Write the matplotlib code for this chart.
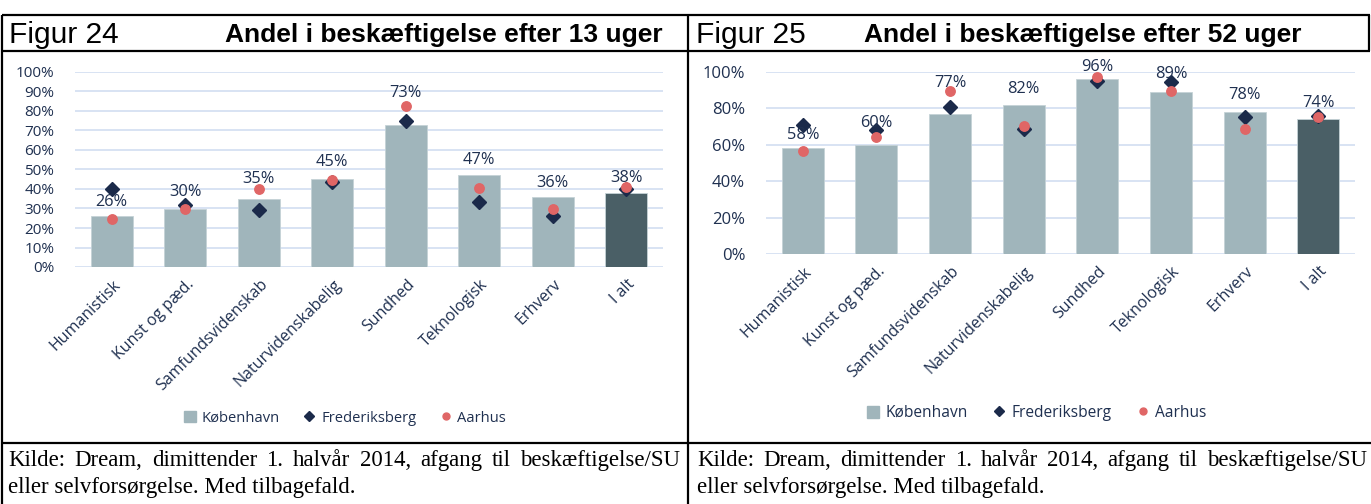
import matplotlib

matplotlib.use("Agg")
import matplotlib.pyplot as plt
import matplotlib.transforms as mtransforms
from matplotlib.lines import Line2D
from matplotlib.patches import Patch
from matplotlib.ticker import PercentFormatter

W, H = 1371, 504

categories = ["Humanistisk", "Kunst og pæd.", "Samfundsvidenskab", "Naturvidenskabelig",
              "Sundhed", "Teknologisk", "Erhverv", "I alt"]

kbh_13 = [0.26, 0.30, 0.35, 0.45, 0.73, 0.47, 0.36, 0.38]
frb_13 = [0.40, 0.32, 0.29, 0.435, 0.75, 0.335, 0.26, 0.40]
aar_13 = [0.245, 0.30, 0.40, 0.445, 0.825, 0.405, 0.30, 0.41]

kbh_52 = [0.58, 0.60, 0.77, 0.82, 0.96, 0.89, 0.78, 0.74]
frb_52 = [0.71, 0.68, 0.805, 0.685, 0.95, 0.945, 0.755, 0.76]
aar_52 = [0.565, 0.645, 0.895, 0.705, 0.975, 0.895, 0.685, 0.75]

# label lift above the bar top, in pixels (some were nudged by hand in the original)
lift_13 = [14, 16, 20, 17, 32, 15, 14, 15]
lift_52 = [13, 22, 31, 16, 12, 18, 17, 16]

BAR = "#A0B5BB"
TOTAL = "#4A5F66"
NAVY = "#1B2A4A"
RED = "#E06666"
INK = "#1F3050"
GRID = "#D6E0F2"

SANS = "Open Sans"


def fx(x):
    return x / W


def fy(y):
    return 1 - y / H


def hline(fig, x0, x1, y):
    fig.add_artist(Line2D([fx(x0), fx(x1)], [fy(y), fy(y)], transform=fig.transFigure,
                          color="black", lw=1.6, solid_capstyle="butt"))


def vline(fig, x, y0, y1):
    fig.add_artist(Line2D([fx(x), fx(x)], [fy(y0), fy(y1)], transform=fig.transFigure,
                          color="black", lw=1.6, solid_capstyle="butt"))


def panel(fig, left, right, top, bottom, kbh, frb, aar, lift, ystep, tfs, legend_y, lfs):
    ax = fig.add_axes([fx(left), fy(bottom), (right - left) / W, (bottom - top) / H])
    x = range(len(categories))
    colors = [BAR] * (len(categories) - 1) + [TOTAL]
    bars = ax.bar(x, kbh, width=0.57, color=colors, edgecolor="#C5D3D7", linewidth=0.6, zorder=2)
    ax.plot(x, frb, ls="none", marker="D", ms=6.8, color=NAVY, zorder=3)
    ax.plot(x, aar, ls="none", marker="o", ms=6.8, color=RED, zorder=4)
    for b, v, d in zip(bars, kbh, lift):
        ax.annotate(f"{v * 100:.0f}%", (b.get_x() + b.get_width() / 2, v),
                    xytext=(0, d * 0.72), textcoords="offset points", ha="center", va="center",
                    fontsize=11.8, color=INK, family=SANS, zorder=5)
    ax.set_xlim(-0.5, len(categories) - 0.5)
    ax.set_ylim(0, 1)
    ax.set_yticks([i * ystep for i in range(int(round(1 / ystep)) + 1)])
    ax.yaxis.set_major_formatter(PercentFormatter(1.0, decimals=0))
    ax.grid(axis="y", color=GRID, lw=1.3, zorder=0)
    for s in ax.spines.values():
        s.set_visible(False)
    ax.tick_params(axis="y", length=0, pad=15, labelsize=tfs, labelcolor=INK)
    ax.tick_params(axis="x", length=0, pad=7)
    ax.set_xticks(list(x))
    ax.set_xticklabels(categories, rotation=45, ha="right", va="top", rotation_mode="default",
                       fontsize=11.5, color=INK, family=SANS)
    shift = mtransforms.ScaledTranslation(0.12, 0, fig.dpi_scale_trans)
    for lab in ax.get_xticklabels():
        lab.set_transform(lab.get_transform() + shift)
    for lab in ax.get_yticklabels():
        lab.set_family(SANS)
    handles = [Patch(color=BAR, label="København"),
               Line2D([], [], ls="none", marker="D", ms=5, color=NAVY, label="Frederiksberg"),
               Line2D([], [], ls="none", marker="o", ms=5, color=RED, label="Aarhus")]
    leg = fig.legend(handles=handles, loc="center", ncol=3, frameon=False,
                     bbox_to_anchor=(fx((left + right) / 2 - 24), fy(legend_y)),
                     handlelength=0.8, handleheight=0.8, handletextpad=0.4, columnspacing=1.6,
                     prop={"family": SANS, "size": lfs})
    for t in leg.get_texts():
        t.set_color(INK)
    return ax


def justified(fig, text, x0, x1, y, **kw):
    r = fig.canvas.get_renderer()
    words = text.split()
    arts, widths = [], []
    for w in words:
        t = fig.text(0, fy(y), w, va="baseline", ha="left", **kw)
        widths.append(t.get_window_extent(renderer=r).width)
        arts.append(t)
    gap = (x1 - x0 - sum(widths)) / (len(words) - 1)
    x = x0
    for t, w in zip(arts, widths):
        t.set_x(fx(x))
        x += w + gap


def main():
    fig = plt.figure(figsize=(W / 100, H / 100), dpi=100)

    # frame
    hline(fig, 2, 1370, 15)
    hline(fig, 2, 1370, 51)
    hline(fig, 2, 1371, 443)
    vline(fig, 2, 15, 504)
    vline(fig, 688, 15, 504)
    vline(fig, 1369, 15, 51)

    # headers
    hfont = "Liberation Sans"
    fig.text(fx(9), fy(43), "Figur 24", fontsize=21.5, family=hfont, va="baseline")
    fig.text(fx(663), fy(42), "Andel i beskæftigelse efter 13 uger", fontsize=19,
             fontweight="bold", family=hfont, va="baseline", ha="right")
    fig.text(fx(696), fy(43), "Figur 25", fontsize=21.5, family=hfont, va="baseline")
    fig.text(fx(1302), fy(42), "Andel i beskæftigelse efter 52 uger", fontsize=19,
             fontweight="bold", family=hfont, va="baseline", ha="right")

    panel(fig, 75, 663, 72, 267, kbh_13, frb_13, aar_13, lift_13, 0.1, 11, 418, 10.6)
    panel(fig, 766, 1355, 72, 254, kbh_52, frb_52, aar_52, lift_52, 0.2, 12, 413, 11.2)

    # captions
    cap = dict(fontsize=16.5, family="Liberation Serif", color="black")
    line1 = "Kilde: Dream, dimittender 1. halvår 2014, afgang til beskæftigelse/SU"
    line2 = "eller selvforsørgelse. Med tilbagefald."
    justified(fig, line1, 8, 680, 466, **cap)
    fig.text(fx(8), fy(493), line2, va="baseline", **cap)
    justified(fig, line1, 697, 1367, 466, **cap)
    fig.text(fx(697), fy(493), line2, va="baseline", **cap)

    fig.savefig("out.png", dpi=100)
    plt.close(fig)


if __name__ == "__main__":
    main()
